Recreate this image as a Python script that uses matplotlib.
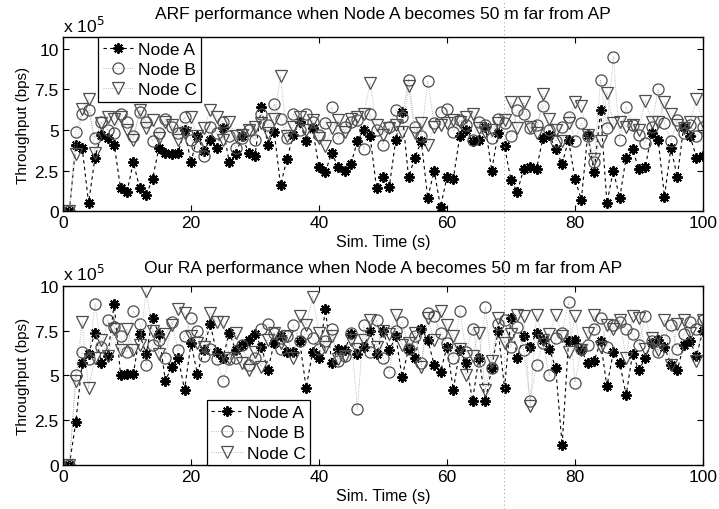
import matplotlib
matplotlib.use("Agg")
import matplotlib.pyplot as plt
from matplotlib.lines import Line2D

plt.rcParams["font.family"] = ["Liberation Sans", "DejaVu Sans"]

# simulation time (s), one sample per second
sim_time = list(range(1, 101))

# throughput in units of 1e5 bps -- ARF
arf_node_a = [
    0.0, 4.1, 3.9, 0.5, 3.3, 4.7, 4.5, 4.1, 1.4, 1.2,
    3.0, 1.4, 1.0, 2.0, 3.9, 3.6, 3.5, 3.6, 5.0, 3.0,
    4.6, 3.7, 4.4, 3.9, 5.1, 3.0, 3.5, 4.6, 3.6, 3.4,
    6.4, 4.1, 4.9, 1.6, 3.2, 4.7, 5.5, 4.3, 5.1, 2.7,
    2.4, 3.6, 2.7, 2.5, 2.9, 4.3, 5.0, 4.6, 1.4, 2.1,
    1.5, 4.4, 6.1, 2.1, 3.3, 4.3, 0.8, 2.5, 0.25, 2.1,
    2.0, 4.6, 5.0, 4.3, 4.4, 5.2, 2.5, 4.8, 4.0, 1.9,
    1.2, 2.6, 2.7, 2.6, 4.5, 4.7, 3.8, 2.9, 4.4, 2.0,
    0.7, 4.7, 2.4, 6.2, 0.5, 2.5, 0.8, 3.3, 3.8, 2.6,
    2.7, 4.8, 4.4, 0.9, 3.9, 2.1, 5.2, 4.6, 3.3, 3.4,
]
arf_node_b = [
    0.0, 4.9, 6.0, 6.2, 4.5, 5.5, 5.0, 4.8, 6.0, 5.5,
    4.6, 6.1, 5.5, 4.3, 4.8, 5.7, 5.2, 4.8, 5.8, 4.4,
    4.0, 3.4, 5.2, 4.8, 5.5, 4.6, 3.9, 4.5, 5.0, 4.4,
    6.0, 5.3, 6.6, 5.7, 4.5, 6.0, 5.0, 6.0, 5.5, 4.7,
    5.4, 6.4, 4.5, 5.2, 5.5, 5.6, 3.8, 6.0, 5.0, 4.1,
    5.2, 6.2, 5.8, 8.1, 5.2, 4.6, 8.0, 5.4, 6.1, 6.3,
    4.9, 5.6, 5.3, 4.4, 5.5, 5.3, 4.5, 5.7, 5.4, 4.6,
    6.2, 6.0, 5.1, 5.3, 6.5, 5.0, 4.3, 5.2, 5.8, 4.3,
    5.4, 4.6, 3.0, 8.1, 5.1, 9.5, 4.4, 6.4, 5.3, 4.7,
    4.2, 5.2, 7.5, 5.4, 4.3, 5.6, 4.8, 5.3, 4.6, 5.2,
]
arf_node_c = [
    0.0, 3.5, 6.3, 6.9, 3.6, 5.4, 5.8, 5.7, 5.8, 5.0,
    4.4, 6.2, 5.1, 5.6, 4.5, 5.5, 5.3, 4.4, 4.8, 5.8,
    4.6, 5.1, 6.2, 5.8, 4.4, 5.5, 4.6, 4.7, 5.0, 5.2,
    5.4, 4.8, 5.7, 8.3, 4.6, 5.2, 5.8, 5.0, 5.6, 4.5,
    4.0, 5.1, 5.6, 4.9, 5.7, 5.8, 6.0, 7.9, 5.3, 4.7,
    5.1, 5.3, 4.9, 7.7, 4.8, 5.4, 4.1, 5.2, 5.3, 5.4,
    5.6, 5.5, 5.8, 6.0, 5.1, 4.9, 5.0, 5.4, 5.6, 6.7,
    5.1, 6.7, 5.2, 4.8, 7.2, 5.7, 5.0, 4.3, 5.4, 6.7,
    6.5, 4.7, 3.2, 4.3, 7.3, 5.4, 5.5, 5.2, 5.3, 5.0,
    6.8, 5.5, 5.5, 6.7, 6.0, 5.3, 5.1, 5.5, 6.9, 5.5,
]

# throughput in units of 1e5 bps -- proposed rate adaptation
ra_node_a = [
    0.0, 2.4, 5.7, 6.2, 7.4, 5.7, 6.1, 9.0, 5.0, 5.1,
    5.1, 7.3, 6.2, 8.2, 7.3, 4.7, 5.5, 6.0, 4.2, 6.8,
    5.1, 6.4, 7.9, 6.3, 6.0, 7.4, 6.4, 6.7, 7.0, 7.3,
    6.6, 5.3, 6.8, 7.2, 6.3, 6.3, 6.9, 4.3, 6.3, 6.0,
    8.7, 5.7, 6.5, 6.4, 7.3, 6.2, 6.6, 7.5, 6.2, 7.5,
    6.4, 7.2, 4.9, 6.5, 6.0, 7.6, 7.0, 5.6, 5.2, 6.6,
    4.2, 6.4, 5.7, 3.6, 6.0, 3.6, 5.4, 7.5, 4.3, 8.2,
    6.0, 7.2, 6.6, 7.4, 7.0, 6.5, 5.4, 1.1, 6.9, 7.0,
    6.4, 5.7, 5.8, 6.9, 4.4, 6.3, 5.7, 3.9, 6.2, 5.3,
    6.0, 6.8, 7.0, 6.6, 5.6, 5.3, 6.7, 6.9, 6.1, 7.5,
]
ra_node_b = [
    0.0, 5.0, 6.3, 5.9, 9.0, 6.6, 8.1, 7.7, 7.2, 6.3,
    8.6, 7.9, 5.6, 6.7, 7.0, 6.0, 8.0, 6.4, 7.2, 8.2,
    7.5, 6.1, 6.5, 5.9, 4.7, 5.9, 6.0, 6.7, 5.6, 6.0,
    7.6, 7.9, 7.4, 6.5, 7.2, 7.8, 6.9, 7.4, 7.1, 6.5,
    6.9, 7.6, 5.8, 6.1, 7.4, 3.1, 7.8, 6.3, 8.1, 6.0,
    5.2, 7.5, 8.0, 6.5, 7.2, 5.7, 8.5, 8.3, 7.4, 6.8,
    6.0, 8.6, 6.3, 7.6, 5.8, 8.8, 5.4, 7.9, 8.1, 6.6,
    7.7, 6.4, 3.6, 5.6, 6.8, 5.0, 7.1, 7.4, 9.1, 4.6,
    6.5, 6.7, 7.6, 8.2, 6.6, 7.8, 8.0, 7.6, 7.3, 6.7,
    8.3, 6.9, 6.3, 7.0, 7.8, 6.5, 7.3, 8.0, 7.6, 8.1,
]
ra_node_c = [
    0.0, 4.7, 8.0, 4.3, 6.0, 7.0, 6.1, 7.6, 6.4, 7.6,
    6.4, 6.7, 9.7, 7.5, 6.2, 7.3, 7.8, 8.7, 8.5, 7.2,
    6.8, 6.6, 8.5, 8.0, 8.0, 6.0, 7.4, 5.7, 5.3, 6.3,
    5.5, 7.0, 7.4, 6.8, 7.2, 6.0, 8.3, 7.8, 9.4, 7.4,
    6.6, 7.2, 5.9, 6.1, 7.0, 6.5, 7.0, 8.1, 6.6, 7.5,
    7.3, 8.4, 6.7, 6.8, 7.4, 5.5, 8.2, 7.0, 8.6, 7.8,
    7.2, 6.5, 5.0, 6.1, 7.4, 4.2, 5.8, 8.2, 6.8, 7.3,
    8.4, 8.3, 3.3, 8.4, 7.0, 7.3, 8.4, 7.2, 6.3, 8.3,
    6.4, 7.4, 8.4, 6.6, 7.8, 7.6, 8.1, 6.0, 8.3, 8.2,
    6.5, 7.1, 6.4, 8.1, 5.6, 7.9, 8.1, 7.4, 5.8, 8.1,
]

node_labels = ["Node A", "Node B", "Node C"]
y_ticks = [0, 2.5, 5, 7.5, 10]
y_tick_labels = ["0", "2.5", "5", "7.5", "10"]
x_ticks = [0, 20, 40, 60, 80, 100]

STYLES = [
    dict(ls="--", color="black", lw=0.8, marker=(8, 2, 0), ms=7.5,
         mec="black", mew=1.4, dashes=(3, 3)),
    dict(ls=":", color="0.65", lw=0.6, marker="o", ms=8,
         mec="0.3", mfc="none", mew=0.9),
    dict(ls=":", color="0.65", lw=0.6, marker="v", ms=8,
         mec="0.3", mfc="none", mew=0.9),
]


def draw_panel(ax, series, title, title_pad, ylim_top, legend_loc, legend_anchor):
    handles = []
    for vals, label, st in zip(series, node_labels, STYLES):
        h, = ax.plot(sim_time, vals, label=label, **st)
        handles.append(h)
    ax.set_xlim(0, 100)
    ax.set_ylim(0, ylim_top)
    ax.set_xticks(x_ticks)
    ax.set_yticks(y_ticks)
    ax.set_yticklabels(y_tick_labels)
    ax.tick_params(direction="in", top=True, right=True, length=4,
                   labelsize=12.5, width=0.8, pad=3)
    for sp in ax.spines.values():
        sp.set_linewidth(1.0)
    ax.set_title(title, fontsize=12.5, pad=title_pad)
    ax.set_xlabel("Sim. Time (s)", fontsize=11.5, labelpad=3)
    ax.set_ylabel("Throughput (bps)", fontsize=11, labelpad=3)
    ax.text(0.0, 1.015, r"x 10$^5$", transform=ax.transAxes, ha="left",
            va="bottom", fontsize=12.5)
    leg = ax.legend(handles=handles, loc=legend_loc, bbox_to_anchor=legend_anchor,
                    fontsize=12.5, frameon=True, fancybox=False, framealpha=1,
                    edgecolor="black", handlelength=1.8, handletextpad=0.25,
                    borderpad=0.25, labelspacing=0.3, borderaxespad=0)
    leg.get_frame().set_linewidth(0.9)


fig = plt.figure(figsize=(7.19, 5.10), dpi=100)
ax_top = fig.add_axes([0.0876, 0.584, 0.890, 0.341])
ax_bot = fig.add_axes([0.0876, 0.0863, 0.890, 0.351])

draw_panel(ax_top, [arf_node_a, arf_node_b, arf_node_c],
           "ARF performance when Node A becomes 50 m far from AP",
           14, 10.7, "upper left", (0.055, 1.0))
draw_panel(ax_bot, [ra_node_a, ra_node_b, ra_node_c],
           "Our RA performance when Node A becomes 50 m far from AP",
           10, 10, "lower left", (0.225, 0.0))

# faint vertical rule running down the page
fig.add_artist(Line2D([0.701, 0.701], [0, 1], transform=fig.transFigure,
                      ls=(0, (1, 3)), color="0.6", lw=0.7))

fig.savefig("out.png", dpi=100)
